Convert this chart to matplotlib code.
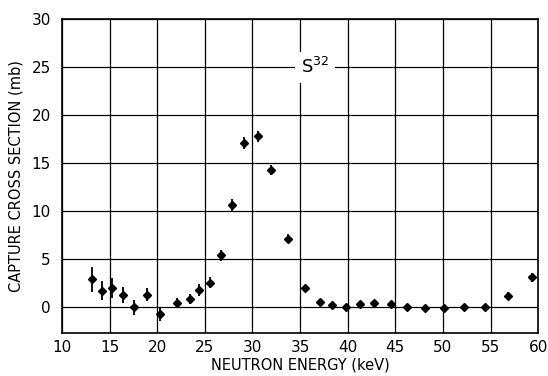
import numpy as np
import matplotlib.pyplot as plt

# S-32 neutron capture cross section
energy_kev = [13.2, 14.2, 15.3, 16.4, 17.6, 18.9, 20.35, 22.1, 23.4, 24.4, 25.5,
              26.65, 27.9, 29.1, 30.55, 32.0, 33.75, 35.55, 37.1, 38.4, 39.8,
              41.3, 42.8, 44.5, 46.25, 48.1, 50.1, 52.2, 54.4, 56.85, 59.35]
sigma_mb = [2.9, 1.7, 2.0, 1.25, 0.0, 1.3, -0.75, 0.45, 0.85, 1.8, 2.55,
            5.4, 10.6, 17.1, 17.8, 14.3, 7.15, 2.0, 0.5, 0.2, 0.0,
            0.3, 0.4, 0.3, 0.0, -0.1, -0.1, 0.05, 0.0, 1.2, 3.1]
sigma_err = [1.3, 1.0, 1.05, 0.85, 0.8, 0.7, 0.7, 0.55, 0.55, 0.6, 0.55,
             0.6, 0.65, 0.6, 0.6, 0.5, 0.45, 0.35, 0.35, 0.3, 0.3,
             0.3, 0.3, 0.3, 0.25, 0.25, 0.25, 0.3, 0.3, 0.4, 0.5]

x_ticks = [10, 15, 20, 25, 30, 35, 40, 45, 50, 55, 60]
y_ticks = [0, 5, 10, 15, 20, 25, 30]

fig = plt.figure(figsize=(5.48, 3.76), dpi=100)
ax = fig.add_axes([0.113, 0.114, 0.869, 0.835])

ax.errorbar(energy_kev, sigma_mb, yerr=sigma_err, fmt='D', color='black',
            markersize=4, elinewidth=1.3, capsize=0, zorder=3)

ax.set_xlim(10, 60)
ax.set_ylim(-2.7, 30)
ax.set_xticks(x_ticks)
ax.set_yticks(y_ticks)
ax.tick_params(length=0, labelsize=11)
ax.tick_params(axis='x', pad=5)
ax.tick_params(axis='y', pad=8)
ax.grid(True, color='black', linewidth=0.9)
ax.set_axisbelow(True)
for s in ax.spines.values():
    s.set_linewidth(1.2)

ax.set_xlabel('NEUTRON ENERGY (keV)', fontsize=10.5, labelpad=2)
ax.set_ylabel('CAPTURE CROSS SECTION (mb)', fontsize=10.5, labelpad=6)

ax.text(36.6, 25, 'S$^{32}$', fontsize=13, ha='center', va='center',
        bbox=dict(facecolor='white', edgecolor='none', pad=4), zorder=2)

fig.savefig('out.png', dpi=100)
